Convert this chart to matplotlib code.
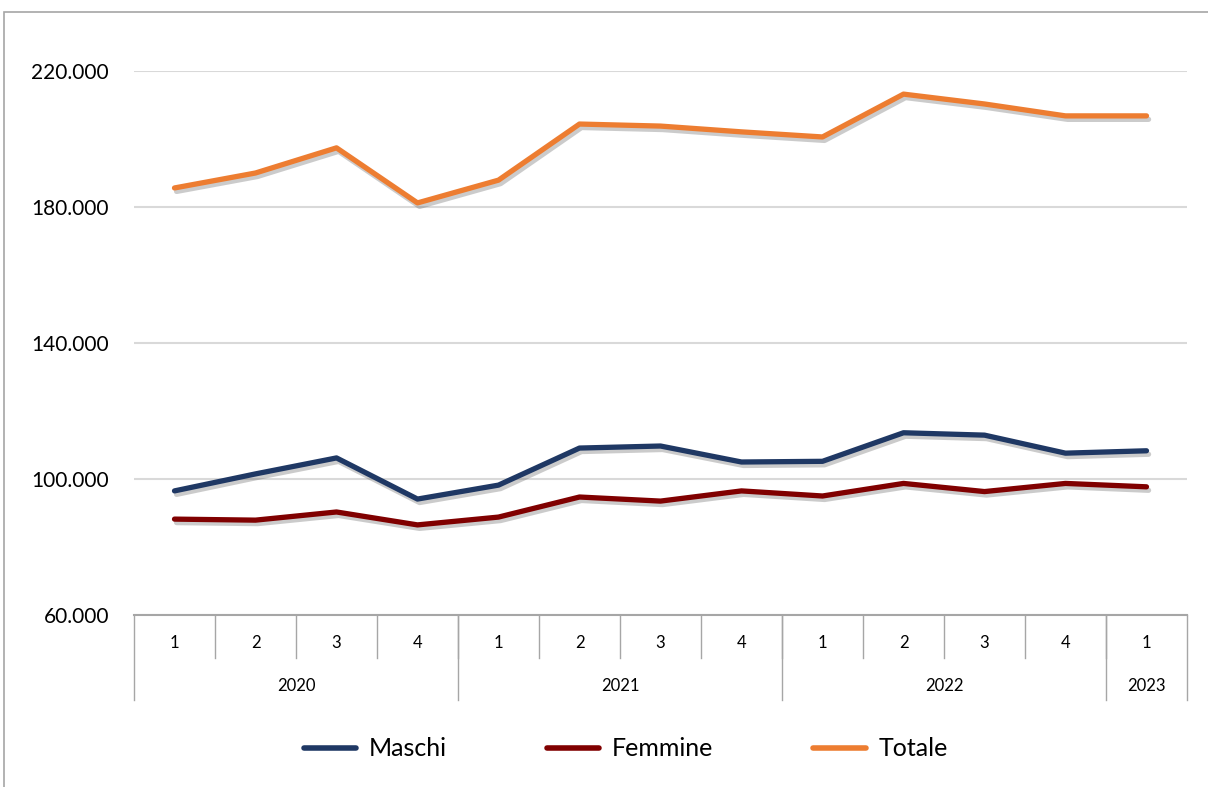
import matplotlib.pyplot as plt
import matplotlib.patheffects as pe
from matplotlib.patches import Rectangle

plt.rcParams['font.family'] = ['Lato', 'DejaVu Sans']

# quarters 2020 Q1 -> 2023 Q1
trimestri = ['1', '2', '3', '4', '1', '2', '3', '4', '1', '2', '3', '4', '1']
anni = ['2020', '2021', '2022', '2023']
anni_n = [4, 4, 4, 1]

maschi = [96500, 101500, 106200, 94100, 98200, 109100, 109700, 105000,
          105200, 113600, 112900, 107600, 108300]
femmine = [88200, 87900, 90300, 86500, 88800, 94700, 93500, 96500,
           95000, 98700, 96300, 98700, 97700]
totale = [185600, 190000, 197400, 181200, 187900, 204400, 203800, 202100,
          200600, 213200, 210300, 206800, 206800]

W, H = 1208, 787
fig = plt.figure(figsize=(W / 100, H / 100), dpi=100)

# outer chart border
fig.patches.append(Rectangle((4 / W, -0.01), 1.1, 1 - 12 / H + 0.01,
                             transform=fig.transFigure, fill=False,
                             edgecolor='#a6a6a6', linewidth=1.2))

x0, x1 = 134, 1187
y_top, y_bot = 71, 615
ax = fig.add_axes([x0 / W, 1 - y_bot / H, (x1 - x0) / W, (y_bot - y_top) / H])

xs = list(range(len(trimestri)))
shadow = [pe.SimpleLineShadow(offset=(1.5, -2.5), shadow_color='#555555', alpha=0.3),
          pe.Normal()]
ax.plot(xs, maschi, color='#1f3864', lw=3.8, solid_capstyle='round',
        path_effects=shadow, label='Maschi', zorder=3)
ax.plot(xs, femmine, color='#800000', lw=3.8, solid_capstyle='round',
        path_effects=shadow, label='Femmine', zorder=3)
ax.plot(xs, totale, color='#ed7d31', lw=3.8, solid_capstyle='round',
        path_effects=shadow, label='Totale', zorder=3)

ax.set_xlim(-0.5, len(trimestri) - 0.5)
ax.set_ylim(60000, 220000)
ax.set_yticks([60000, 100000, 140000, 180000, 220000])
ax.set_yticklabels(['60.000', '100.000', '140.000', '180.000', '220.000'])
ax.tick_params(axis='y', length=0, labelsize=15, pad=18, colors='#000000')
ax.grid(axis='y', color='#d9d9d9', linewidth=1.5, zorder=0)
for s in ['top', 'right', 'left']:
    ax.spines[s].set_visible(False)
ax.spines['bottom'].set_color('#a6a6a6')
ax.spines['bottom'].set_linewidth(1.5)
ax.set_xticks([])

# two-level category axis
tr = ax.get_xaxis_transform()
q_h = 43 / (y_bot - y_top)
y_h = 85 / (y_bot - y_top)
for i, t in enumerate(trimestri):
    ax.text(i, -28 / (y_bot - y_top), t, transform=tr, ha='center', va='center',
            fontsize=12, clip_on=False)
for i in range(1, len(trimestri)):
    ax.plot([i - 0.5, i - 0.5], [0, -q_h], transform=tr, color='#a6a6a6',
            lw=1, clip_on=False)
start = 0
bounds = [-0.5]
for a, n in zip(anni, anni_n):
    ax.text(start + (n - 1) / 2, -71 / (y_bot - y_top), a, transform=tr,
            ha='center', va='center', fontsize=12, clip_on=False)
    start += n
    bounds.append(start - 0.5)
for b in bounds:
    ax.plot([b, b], [0, -y_h], transform=tr, color='#a6a6a6', lw=1, clip_on=False)

leg = fig.legend(loc='center', bbox_to_anchor=(0.518, 1 - 749 / H), ncol=3,
                 frameon=False, fontsize=18, handlelength=2.1, columnspacing=4.0,
                 handletextpad=0.5)
for h in leg.legend_handles:
    h.set_path_effects([])
    h.set_linewidth(4)

fig.savefig('out.png', dpi=100)
